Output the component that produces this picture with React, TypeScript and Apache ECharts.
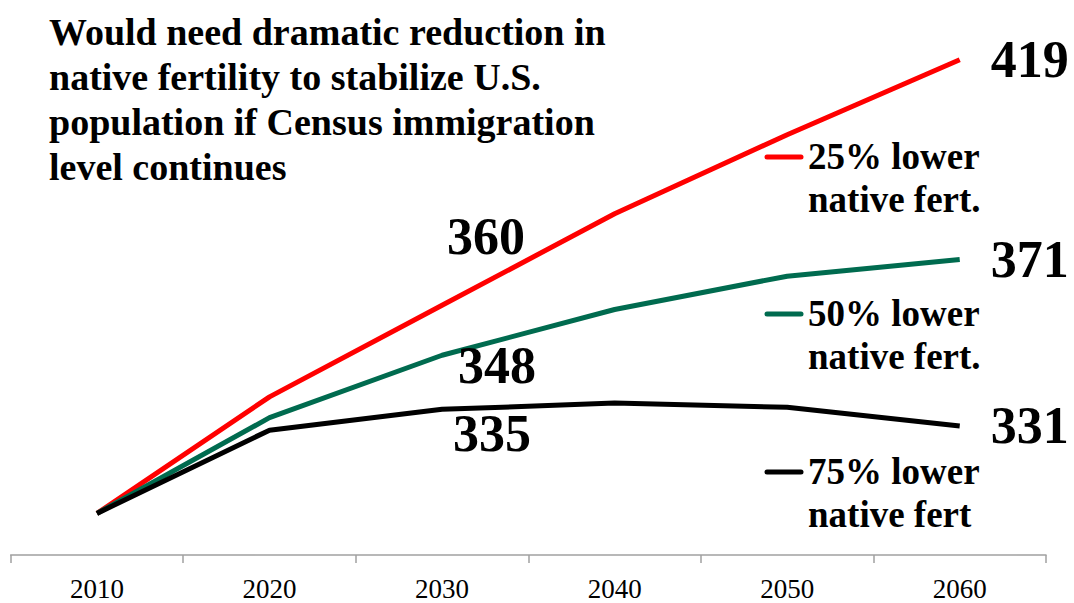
import React, { useEffect, useRef } from "react";
import * as echarts from "echarts";

const years = ["2010", "2020", "2030", "2040", "2050", "2060"];
const lower25 = [310, 338, 360, 382, 401, 419];
const lower50 = [310, 333, 348, 359, 367, 371];
const lower75 = [310, 330, 335, 336.5, 335.5, 331];

const titleText =
  "Would need dramatic reduction in\nnative fertility to stabilize U.S.\npopulation if Census immigration\nlevel continues";

const SERIF = '"Liberation Serif", "Times New Roman", serif';

const seriesDefs = [
  { name: "25% lower native fert.", data: lower25, color: "#FF0000", legend: "25% lower\nnative fert.", midOffset: [44, -69], legendY: 157 },
  { name: "50% lower native fert.", data: lower50, color: "#006B4F", legend: "50% lower\nnative fert.", midOffset: [55, 10], legendY: 314 },
  { name: "75% lower native fert", data: lower75, color: "#000000", legend: "75% lower\nnative fert", midOffset: [50, 24], legendY: 472 },
];

const labelStyle = {
  show: true,
  position: "inside",
  fontFamily: SERIF,
  fontWeight: "bold",
  fontSize: 52,
  color: "#000",
  align: "center",
  verticalAlign: "middle",
};

export default function App() {
  const ref = useRef<HTMLDivElement>(null);
  useEffect(() => {
    if (!ref.current) return;
    const chart = echarts.init(ref.current, null, { renderer: "svg" });
    const series = seriesDefs.map((s) => ({
      name: s.name,
      type: "line",
      symbol: "circle",
      symbolSize: 1,
      showSymbol: true,
      itemStyle: { color: "rgba(0,0,0,0)" },
      lineStyle: { color: s.color, width: 5 },
      data: s.data.map((v, i) => {
        if (i === 2) {
          return { value: v, label: { ...labelStyle, offset: s.midOffset, formatter: String(Math.round(v)) } };
        }
        if (i === s.data.length - 1) {
          return { value: v, label: { ...labelStyle, offset: [70, 0], formatter: String(Math.round(v)) } };
        }
        return { value: v };
      }),
    }));
    const graphic: any[] = [];
    seriesDefs.forEach((s) => {
      graphic.push({
        type: "line",
        shape: { x1: 767, y1: s.legendY, x2: 801, y2: s.legendY },
        style: { stroke: s.color, lineWidth: 5, lineCap: "round" },
      });
      graphic.push({
        type: "text",
        left: 808,
        top: s.legendY - 22,
        style: {
          text: s.legend,
          font: `bold 37px ${SERIF}`,
          fill: "#000",
          lineHeight: 43,
        },
      });
    });
    chart.setOption({
      animation: false,
      title: {
        text: titleText,
        left: 49,
        top: 9,
        padding: 0,
        textStyle: {
          fontFamily: SERIF,
          fontWeight: "bold",
          fontSize: 38,
          lineHeight: 45,
          color: "#000",
        },
      },
      grid: { left: 10.7, right: 28, top: 14, bottom: 48, containLabel: false },
      xAxis: {
        type: "category",
        data: years,
        boundaryGap: true,
        axisLine: { lineStyle: { color: "#A0A0A0", width: 1.5 } },
        axisTick: { show: true, length: 8, lineStyle: { color: "#A0A0A0", width: 1.5 } },
        axisLabel: { color: "#000", fontFamily: SERIF, fontSize: 27, margin: 20 },
      },
      yAxis: {
        type: "value",
        min: 300,
        max: 430,
        show: false,
        splitLine: { show: false },
      },
      series,
      graphic,
    });
    return () => chart.dispose();
  }, []);
  return (
    <div
      ref={ref}
      style={{ position: "fixed", left: 0, top: 0, width: 1074, height: 603, background: "#fff" }}
    />
  );
}
